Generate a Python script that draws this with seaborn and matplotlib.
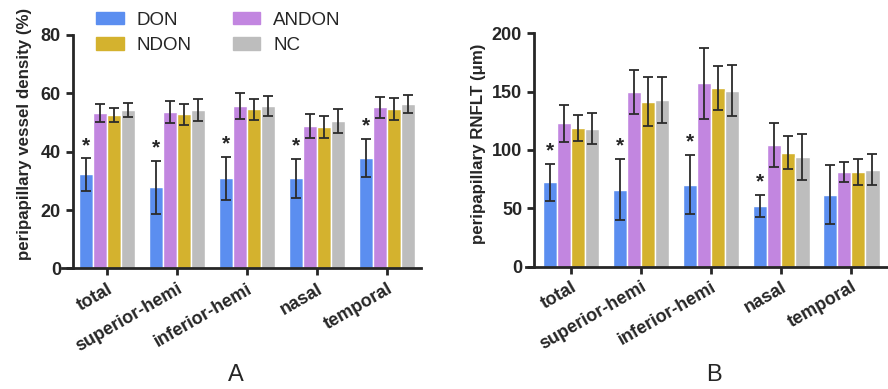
import numpy as np
import pandas as pd
import matplotlib
matplotlib.use('Agg')
import matplotlib.pyplot as plt
import seaborn as sns

# data (mean and SD per region and group)
regions = ['total', 'superior-hemi', 'inferior-hemi', 'nasal', 'temporal']
groups = ['DON', 'ANDON', 'NDON', 'NC']
colors = ['#5b8ef0', '#c286e0', '#d4b22e', '#bdbdbd']

# panel A: peripapillary vessel density (%)
vd_don = [32.2, 27.8, 30.9, 30.9, 37.8]
vd_don_sd = [5.5, 9.0, 7.3, 6.7, 6.5]
vd_andon = [53.3, 53.6, 55.7, 48.8, 55.3]
vd_andon_sd = [3.0, 3.8, 4.5, 4.0, 3.6]
vd_ndon = [52.6, 52.9, 54.6, 48.4, 54.6]
vd_ndon_sd = [2.5, 3.6, 3.6, 3.7, 3.7]
vd_nc = [54.3, 54.3, 55.7, 50.5, 56.4]
vd_nc_sd = [2.4, 3.8, 3.4, 4.0, 3.0]
vd_sig = [True, True, True, True, True]

# panel B: peripapillary RNFLT (um)
rnfl_don = [72.4, 66.1, 70.4, 52.3, 61.8]
rnfl_don_sd = [16.0, 26.5, 25.2, 9.4, 25.0]
rnfl_andon = [122.8, 149.5, 157.2, 104.1, 81.0]
rnfl_andon_sd = [15.6, 19.0, 30.3, 19.0, 8.7]
rnfl_ndon = [119.0, 141.4, 153.2, 97.8, 81.4]
rnfl_ndon_sd = [11.0, 21.0, 19.2, 14.0, 11.2]
rnfl_nc = [118.4, 143.1, 150.9, 94.0, 83.1]
rnfl_nc_sd = [13.0, 19.6, 22.0, 20.0, 13.5]
rnfl_sig = [True, True, True, True, False]

sns.set_style('ticks')
plt.rcParams['font.family'] = ['Liberation Sans', 'DejaVu Sans']


def make_df(means):
    rows = []
    for g, vals in zip(groups, means):
        for r, v in zip(regions, vals):
            rows.append({'region': r, 'group': g, 'value': v})
    return pd.DataFrame(rows)


def draw_panel(ax, means, sds, sig, ylim, yticks, ylabel, xlim, spine_off, ylab_x, ylab_y):
    df = make_df(means)
    sns.barplot(data=df, x='region', y='value', hue='group', order=regions,
                hue_order=groups, palette=colors, errorbar=None, width=0.81,
                saturation=1, legend=False, ax=ax)
    for k, (cont, sd) in enumerate(zip(ax.containers, sds)):
        for j, (bar, s) in enumerate(zip(cont, sd)):
            x = bar.get_x() + bar.get_width() / 2
            y = bar.get_height()
            ax.errorbar(x, y, yerr=s, fmt='none', ecolor='#2b2b2b',
                        elinewidth=1.3, capsize=3.5, capthick=1.3)
            if k == 0 and sig[j]:
                ax.annotate('*', (x, y + s), xytext=(0, 2.5), textcoords='offset points',
                            ha='center', va='bottom', fontsize=15, fontweight='bold')
    ax.set_ylim(ylim)
    ax.set_yticks(yticks)
    ax.set_xlim(xlim)
    ax.set_xlabel('')
    ax.set_ylabel(ylabel, fontsize=12.2, fontweight='bold')
    ax.yaxis.set_label_coords(ylab_x, ylab_y)
    sns.despine(ax=ax)
    ax.spines['left'].set_position(('axes', spine_off))
    for sp in ['left', 'bottom']:
        ax.spines[sp].set_linewidth(2)
    ax.tick_params(axis='both', direction='out', length=5, width=2, labelsize=13)
    for lab in ax.get_yticklabels():
        lab.set_fontweight('bold')
    ax.set_xticks(range(len(regions)))
    ax.set_xticklabels(regions, rotation=30, ha='right', rotation_mode='anchor',
                       fontweight='bold', fontsize=13)


fig = plt.figure(figsize=(8.88, 3.89), dpi=100)
axA = fig.add_axes([0.0698, 0.3098, 0.4043, 0.6003])
axB = fig.add_axes([0.5923, 0.3144, 0.4065, 0.6])

draw_panel(axA, [vd_don, vd_andon, vd_ndon, vd_nc],
           [vd_don_sd, vd_andon_sd, vd_ndon_sd, vd_nc_sd], vd_sig,
           (0, 80), [0, 20, 40, 60, 80], 'peripapillary vessel density (%)',
           (-0.643, 4.486), 0.03, -0.084, 0.576)
draw_panel(axB, [rnfl_don, rnfl_andon, rnfl_ndon, rnfl_nc],
           [rnfl_don_sd, rnfl_andon_sd, rnfl_ndon_sd, rnfl_nc_sd], rnfl_sig,
           (0, 200), [0, 50, 100, 150, 200], 'peripapillary RNFLT (μm)',
           (-0.643, 4.51), 0.022, -0.111, 0.526)

# legend: two columns, DON/NDON left, ANDON/NC right
handles = [plt.Rectangle((0, 0), 1, 1, color=c) for c in colors]
order = [0, 2, 1, 3]
axA.legend([handles[i] for i in order], [groups[i] for i in order], ncol=2,
           loc='upper left', bbox_to_anchor=(0.096, 1.10), frameon=False,
           fontsize=13.5, handlelength=1.45, handleheight=0.65,
           handletextpad=0.7, columnspacing=2.2, labelspacing=0.45,
           borderaxespad=0, borderpad=0)

fig.text(236 / 888, 0.036, 'A', ha='center', va='center', fontsize=17)
fig.text(714 / 888, 0.036, 'B', ha='center', va='center', fontsize=17)

fig.savefig('out.png', dpi=100)
